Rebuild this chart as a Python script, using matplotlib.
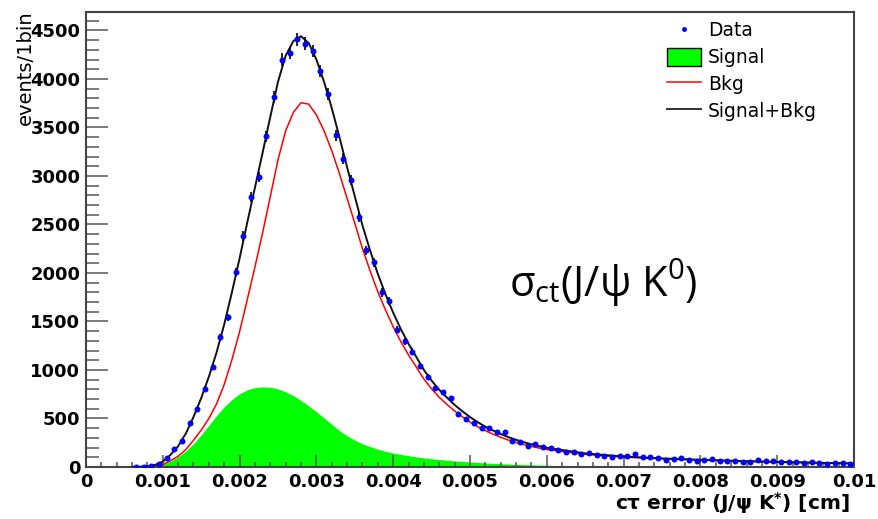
import numpy as np
import matplotlib
matplotlib.use("Agg")
from matplotlib import pyplot as plt
from matplotlib.lines import Line2D
from matplotlib.patches import Patch
from matplotlib.ticker import MultipleLocator, FuncFormatter

plt.rcParams['mathtext.default'] = 'regular'

# histogram: 0.0001 cm bins, first filled bin starts at 0.0006
bin_start = 0.0006
bin_width = 0.0001
data_counts = [
    3, 5, 13, 31, 96, 182, 271, 456, 594, 803,
    1027, 1336, 1542, 2011, 2379, 2784, 2990, 3409, 3814, 4199,
    4267, 4408, 4363, 4288, 4082, 3848, 3419, 3179, 2956, 2572,
    2235, 2108, 1799, 1708, 1415, 1298, 1188, 1043, 930, 810,
    769, 707, 543, 491, 456, 405, 402, 357, 357, 268,
    254, 219, 234, 209, 199, 175, 151, 151, 134, 141,
    124, 113, 106, 113, 113, 131, 106, 100, 89, 72,
    79, 89, 72, 62, 72, 82, 62, 62, 62, 55,
    55, 72, 62, 62, 48, 48, 55, 38, 48, 38,
    31, 38, 38, 31,
]

# fitted components sampled along ct error
curve_x = [
    0.0006, 0.0007, 0.0008, 0.0009, 0.0010, 0.0011, 0.0012, 0.0013, 0.0014, 0.0015,
    0.0016, 0.0017, 0.0018, 0.0019, 0.0020, 0.0021, 0.0022, 0.0023, 0.0024, 0.0025,
    0.0026, 0.0027, 0.0028, 0.0029, 0.0030, 0.0031, 0.0032, 0.0033, 0.0034, 0.0035,
    0.0036, 0.0037, 0.0038, 0.0039, 0.0040, 0.0041, 0.0042, 0.0043, 0.0044, 0.0045,
    0.0046, 0.0047, 0.0048, 0.0049, 0.0050, 0.0051, 0.0052, 0.0053, 0.0054, 0.0055,
    0.0056, 0.0057, 0.0058, 0.0059, 0.0060, 0.0065, 0.0070, 0.0075, 0.0080, 0.0085,
    0.0090, 0.0095, 0.0100,
]
signal_pdf = [
    0, 0, 3, 12, 30, 60, 105, 165, 240, 330,
    430, 530, 620, 695, 755, 795, 818, 826, 822, 805,
    775, 735, 685, 630, 570, 505, 440, 375, 322, 277,
    240, 210, 184, 162, 144, 129, 116, 104, 94, 85,
    77, 70, 63, 57, 52, 47, 42, 38, 34, 30,
    27, 24, 22, 20, 18, 10, 6, 3, 2, 1,
    0, 0, 0,
]
bkg_pdf = [
    0, 2, 5, 10, 25, 65, 110, 180, 275, 380,
    500, 650, 850, 1105, 1395, 1725, 2062, 2414, 2788, 3165,
    3465, 3655, 3755, 3740, 3630, 3465, 3260, 3025, 2768, 2513,
    2250, 2020, 1806, 1618, 1446, 1291, 1154, 1031, 906, 805,
    718, 645, 577, 518, 463, 415, 374, 338, 306, 278,
    253, 232, 212, 195, 180, 130, 102, 85, 72, 61,
    52, 44, 37,
]

counts = np.array(data_counts, dtype=float)
centers = bin_start + bin_width * (np.arange(len(counts)) + 0.5)
cx = np.array(curve_x)
sig = np.array(signal_pdf, dtype=float)
bkg = np.array(bkg_pdf, dtype=float)
total = sig + bkg

fig = plt.figure(figsize=(8.79, 5.19), dpi=100)
ax = fig.add_axes([0.0978, 0.1002, 0.8738, 0.8767])

ax.fill_between(cx, 0, sig, color='#00ff00', linewidth=0, zorder=1)
ax.plot(cx, bkg, color='#ff0000', lw=1.1, zorder=2)
ax.plot(cx, total, color='#111111', lw=1.4, zorder=3)
ax.errorbar(centers, counts, yerr=np.sqrt(counts), fmt='o', color='#0000ff',
            ecolor='black', elinewidth=1.2, capsize=0, markersize=4.3,
            markeredgewidth=0, zorder=4)

ax.set_xlim(0, 0.01)
ax.set_ylim(0, 4690)

ax.xaxis.set_major_locator(MultipleLocator(0.001))
ax.xaxis.set_minor_locator(MultipleLocator(0.0002))
ax.yaxis.set_major_locator(MultipleLocator(500))
ax.yaxis.set_minor_locator(MultipleLocator(100))
ax.xaxis.set_major_formatter(FuncFormatter(lambda v, p: f'{round(v, 4):g}'))
ax.yaxis.set_major_formatter(FuncFormatter(lambda v, p: f'{int(round(v))}'))

ax.tick_params(axis='both', which='both', direction='in', colors='#555555',
               top=False, right=False, width=1.1, labelcolor='black')
ax.tick_params(axis='y', which='major', length=16, pad=4)
ax.tick_params(axis='y', which='minor', length=9)
ax.tick_params(axis='x', which='major', length=8.5, pad=4)
ax.tick_params(axis='x', which='minor', length=3.6)
for lab in ax.get_xticklabels() + ax.get_yticklabels():
    lab.set_fontweight('bold')
    lab.set_fontsize(13)
    lab.set_family('DejaVu Sans')

for side in ax.spines.values():
    side.set_color('#444444')
    side.set_linewidth(1.5)

fig.text(25 / 879, 1 - 10 / 519, 'events/1bin', rotation=90, ha='center',
         va='top', fontsize=14, family='DejaVu Sans')
fig.text(850 / 879, 1 - 503 / 519, 'cτ error (J/ψ K$^{*}$) [cm]', ha='right',
         va='center', fontsize=14.5, fontweight='bold', family='DejaVu Sans')

fig.text(509 / 879, 1 - 297 / 519, 'σ$_{ct}$(J/ψ K$^{0}$)', ha='left',
         va='baseline', fontsize=30, family='Open Sans')

handles = [
    Line2D([], [], marker='o', color='#0000ff', linestyle='none',
           markersize=3.5, markeredgewidth=0),
    Patch(facecolor='#00ff00', edgecolor='black', linewidth=1),
    Line2D([], [], color='#ff0000', lw=1.1),
    Line2D([], [], color='#333333', lw=1.4),
]
ax.legend(handles, ['Data', 'Signal', 'Bkg', 'Signal+Bkg'], loc='upper left',
          bbox_to_anchor=(667 / 879, 1 - 21 / 519), bbox_transform=fig.transFigure,
          frameon=False, borderpad=0, borderaxespad=0, handlelength=1.8,
          handleheight=1.1, handletextpad=0.4, labelspacing=0.4,
          prop={'family': 'DejaVu Sans', 'size': 13.5})

fig.savefig('out.png', dpi=100)
